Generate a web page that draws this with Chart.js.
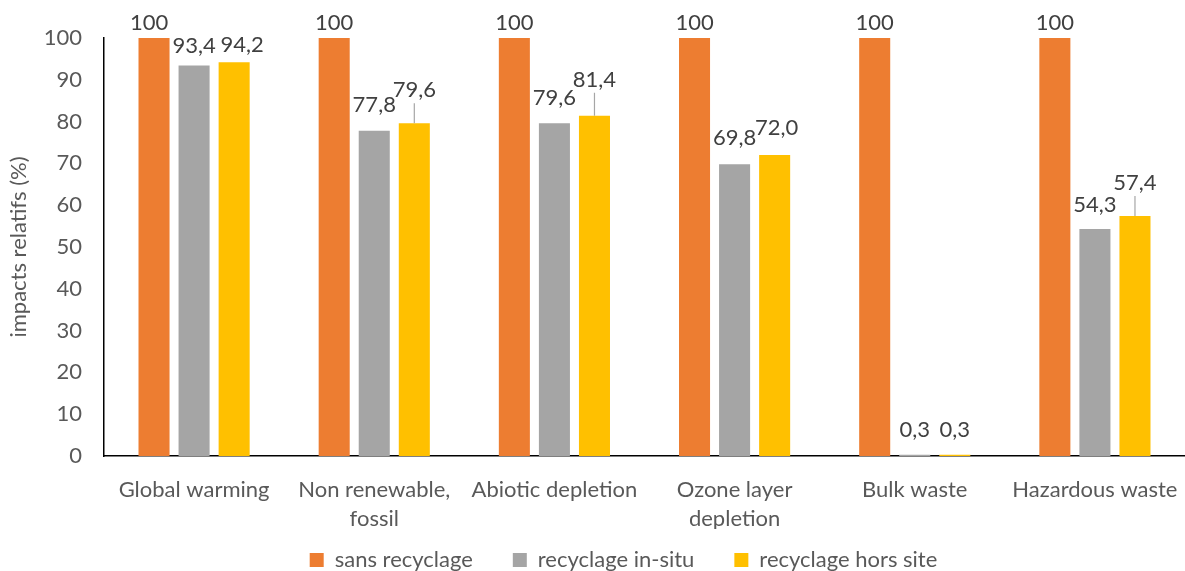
<!DOCTYPE html>
<html>
<head>
<meta charset="utf-8">
<script src="https://cdn.jsdelivr.net/npm/chart.js@4.4.1/dist/chart.umd.min.js"></script>
<style>
  body { margin: 0; background: #fff; }
  canvas { display: block; }
</style>
</head>
<body>
<canvas id="chart" width="1185" height="571"></canvas>
<script>
const categories = [
  'Global warming',
  ['Non renewable,', 'fossil'],
  'Abiotic depletion',
  ['Ozone layer', 'depletion'],
  'Bulk waste',
  'Hazardous waste'
];
const sansRecyclage = [100, 100, 100, 100, 100, 100];
const recyclageInSitu = [93.4, 77.8, 79.6, 69.8, 0.3, 54.3];
const recyclageHorsSite = [94.2, 79.6, 81.4, 72.0, 0.3, 57.4];
const yTicks = [0, 10, 20, 30, 40, 50, 60, 70, 80, 90, 100];

// label placement (pixels above bar top, horizontal nudge)
const labelLift = [
  [15, 15, 15, 15, 15, 15],
  [20, 26, 25, 26, 25, 24],
  [17, 33, 36, 27, 25, 33]
];
const labelShift = [
  [-5, 0, 0, 0, 0, 0],
  [0, 0, 0, 0, 0, 0],
  [8, 0, 0, 2, 0, 0]
];
const decimals = [0, 1, 1];

const FONT = 'Lato, "Liberation Sans", sans-serif';
const FS = 22;

const dataLabels = {
  id: 'dataLabels',
  afterLayout(chart) {
    // legend sits a little right of centre in the original, items spaced wide
    chart.legend.left += 31;
    chart.legend.right += 31;
    chart.legend.top -= 20;
  },
  afterDatasetsDraw(chart) {
    const ctx = chart.ctx;
    ctx.save();
    ctx.font = FS + 'px ' + FONT;
    ctx.fillStyle = '#404040';
    ctx.textAlign = 'center';
    ctx.textBaseline = 'middle';
    chart.data.datasets.forEach((ds, i) => {
      chart.getDatasetMeta(i).data.forEach((bar, j) => {
        const lift = labelLift[i][j];
        const x = bar.x + labelShift[i][j];
        const y = bar.y - lift;
        const txt = ds.data[j].toFixed(decimals[i]).replace('.', ',');
        if (lift > 30) {
          ctx.strokeStyle = '#A6A6A6';
          ctx.lineWidth = 1.2;
          ctx.beginPath();
          ctx.moveTo(x, y + 13);
          ctx.lineTo(bar.x, bar.y);
          ctx.stroke();
        }
        ctx.fillText(txt, x, y);
      });
    });
    ctx.restore();
  }
};

new Chart(document.getElementById('chart'), {
  type: 'bar',
  data: {
    labels: categories,
    datasets: [
      { label: 'sans recyclage', data: sansRecyclage, backgroundColor: '#ED7D31' },
      { label: 'recyclage in-situ', data: recyclageInSitu, backgroundColor: '#A5A5A5' },
      { label: 'recyclage hors site', data: recyclageHorsSite, backgroundColor: '#FFC000' }
    ]
  },
  options: {
    responsive: false,
    animation: false,
    categoryPercentage: 0.667,
    barPercentage: 0.775,
    layout: { padding: { top: 38, right: 0, left: 0, bottom: 0 } },
    plugins: {
      legend: {
        position: 'bottom',
        maxHeight: 42,
        labels: {
          boxWidth: 14,
          boxHeight: 14,
          padding: 40,
          color: '#595959',
          font: { size: FS, family: FONT }
        }
      },
      tooltip: { enabled: false }
    },
    scales: {
      x: {
        grid: { display: false, drawTicks: false },
        border: { color: '#000', width: 1.5 },
        ticks: {
          color: '#595959',
          padding: 19,
          maxRotation: 0,
          font: { size: FS, family: FONT, lineHeight: 1.32 }
        },
        afterFit(scale) {
          scale.paddingLeft = 0;
          scale.paddingRight = 0;
          const legendH = scale.chart.legend ? scale.chart.legend.height : 0;
          scale.height = scale.chart.height - legendH - 456;
        }
      },
      y: {
        min: 0,
        max: 100,
        afterBuildTicks(scale) {
          scale.ticks = yTicks.map(v => ({ value: v }));
        },
        grid: { display: false, drawTicks: false },
        border: { color: '#000', width: 1.5 },
        ticks: {
          color: '#595959',
          padding: 22,
          font: { size: FS, family: FONT }
        },
        title: {
          display: true,
          text: 'impacts relatifs (%)',
          color: '#595959',
          padding: { top: 6, bottom: 0 },
          font: { size: FS, family: FONT }
        },
        afterFit(scale) {
          scale.width = 104;
        }
      }
    }
  },
  plugins: [dataLabels]
});
</script>
</body>
</html>
